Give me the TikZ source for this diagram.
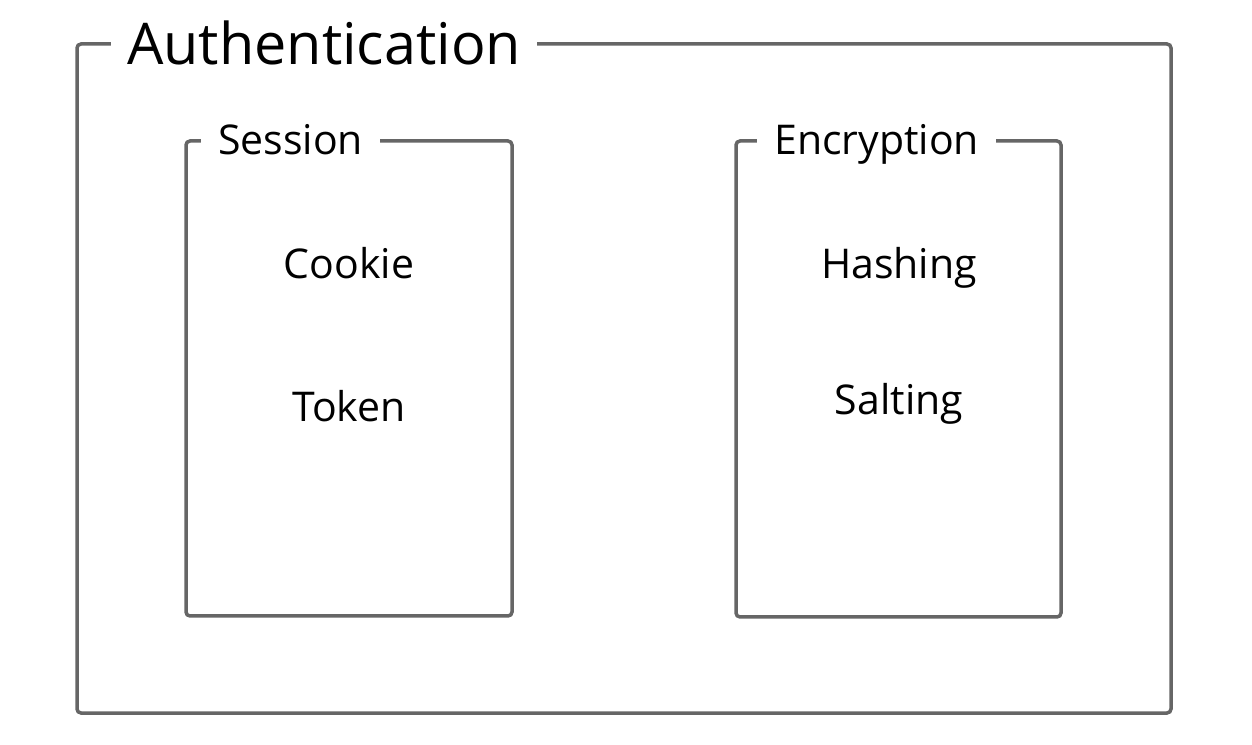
\documentclass[tikz,border=0pt]{standalone}
\usepackage{fontspec}
\setmainfont{Open Sans}
\usepackage{tikz}
\usetikzlibrary{positioning}
\definecolor{framegray}{HTML}{666666}
\tikzstyle{frame} = [draw=framegray, line width=3.5pt, rounded corners=4pt]
\tikzstyle{bigtitle} = [fill=white, inner xsep=16pt, inner ysep=0pt, anchor=base west, font=\fontsize{57.5}{64}\selectfont]
\tikzstyle{title} = [fill=white, inner xsep=17pt, inner ysep=0pt, anchor=base west, font=\fontsize{41}{48}\selectfont]
\tikzstyle{item} = [anchor=base, font=\fontsize{41}{48}\selectfont]

\begin{document}
\begin{tikzpicture}[x=1pt, y=1pt]
		\useasboundingbox (0, 0) rectangle (1252, 744);
		% frames
		\draw[frame] (77, 31) rectangle (1171, 700);
		\draw[frame] (186, 128) rectangle (512, 603);
		\draw[frame] (736, 127) rectangle (1061, 603);
		% titles
		\node[bigtitle] (auth) at (111, 679) {Authentication};
		\node[title] (session) at (201, 589) {Session};
		\node[title] (encryption) at (757, 589) {Encryption};
		% items
		\node[item] (cookie) at (349, 465) {Cookie};
		\node[item] (token) at (349, 322) {Token};
		\node[item] (hashing) at (899, 465) {Hashing};
		\node[item] (salting) at (899, 329) {Salting};
\end{tikzpicture}
\end{document}
